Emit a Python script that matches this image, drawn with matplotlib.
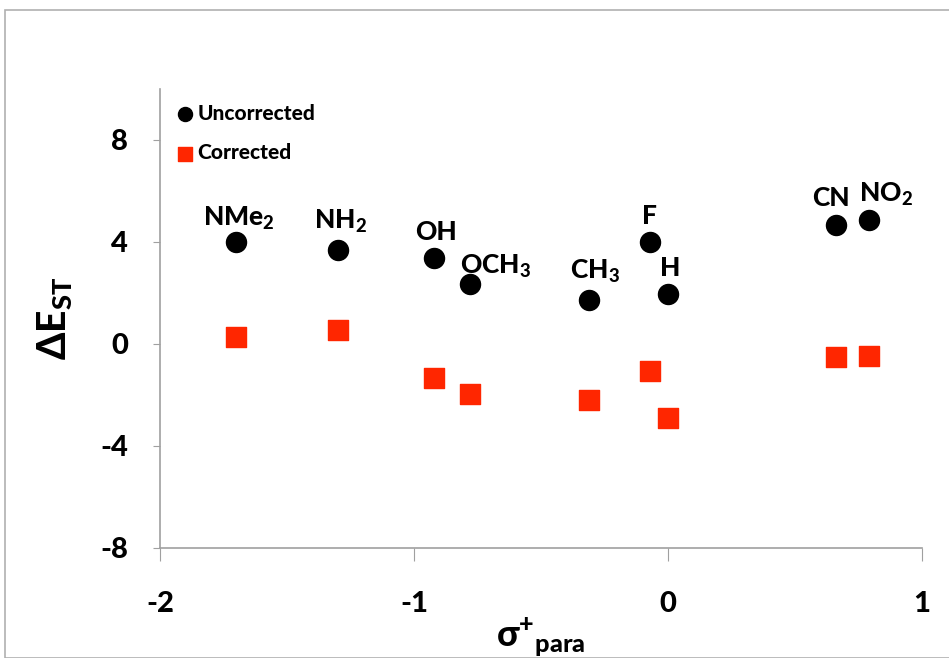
import matplotlib
matplotlib.use("Agg")
import matplotlib.pyplot as plt

substituents = ["NMe$_2$", "NH$_2$", "OH", "OCH$_3$", "CH$_3$", "F", "H", "CN", "NO$_2$"]
sigma_para = [-1.70, -1.30, -0.92, -0.78, -0.31, -0.07, 0.00, 0.66, 0.79]
uncorrected = [4.0, 3.7, 3.37, 2.35, 1.73, 4.0, 1.96, 4.67, 4.86]
corrected = [0.27, 0.55, -1.33, -1.96, -2.2, -1.06, -2.9, -0.51, -0.47]
x_ticks = [-2, -1, 0, 1]
y_ticks = [-8, -4, 0, 4, 8]

offsets = [(3, 24), (3, 28), (2, 26), (26, 18), (6, 28), (-1, 26), (2, 26), (-5, 27), (17, 26)]

W = 'black'
fam = 'Lato'
plt.rcParams['font.family'] = [fam, 'DejaVu Sans']
plt.rcParams['font.weight'] = W
plt.rcParams['mathtext.fontset'] = 'custom'
plt.rcParams['mathtext.rm'] = fam + ':' + W
plt.rcParams['mathtext.it'] = fam + ':' + W
plt.rcParams['mathtext.bf'] = fam + ':' + W
plt.rcParams['mathtext.default'] = 'rm'

fig = plt.figure(figsize=(9.49, 6.58), dpi=100)
ax = fig.add_axes([160/949, 1-548/658, (922-160)/949, (548-89)/658])

fig.patches.append(plt.Rectangle((5/949, 0), 1.2, 1-10/658, transform=fig.transFigure,
                                 fill=False, edgecolor='#b0b0b0', linewidth=1.2))

ax.scatter(sigma_para, uncorrected, s=20**2*0.52, marker='o', color='black', label='Uncorrected', zorder=3)
ax.scatter(sigma_para, corrected, s=20**2*0.52, marker='s', color='#ff2600', label='Corrected', zorder=3)

for name, x, y, (dx, dy) in zip(substituents, sigma_para, uncorrected, offsets):
    ax.annotate(name, (x, y), xytext=(dx, dy), textcoords='offset pixels',
                ha='center', va='center', fontsize=19, fontweight=W)

ax.set_xlim(-2, 1)
ax.set_ylim(-8, 10)
ax.set_xticks(x_ticks)
ax.set_yticks(y_ticks)
ax.set_xticklabels([str(t) for t in x_ticks])
ax.set_yticklabels([str(t) for t in y_ticks])
for lbl in ax.get_xticklabels() + ax.get_yticklabels():
    lbl.set_fontsize(21)
    lbl.set_fontweight(W)

for s in ['top', 'right']:
    ax.spines[s].set_visible(False)
for s in ['left', 'bottom']:
    ax.spines[s].set_color('#a0a0a0')
    ax.spines[s].set_linewidth(1.2)
ax.tick_params(axis='x', direction='out', length=9, color='#a0a0a0', pad=22)
ax.tick_params(axis='y', direction='out', length=5, color='#a0a0a0', pad=18)

ax.set_ylabel('ΔE$_{\\mathrm{ST}}$', fontsize=28, fontweight=W, labelpad=18)
ax.set_xlabel('σ$^{+}$$_{\\mathrm{para}}$', fontsize=26, fontweight=W, labelpad=0)

leg = ax.legend(loc='upper left', bbox_to_anchor=(0.0, 1.0), frameon=False,
                prop={'size': 15, 'weight': W}, handletextpad=0.1,
                handlelength=1.0, markerscale=0.7, labelspacing=1.0, borderaxespad=0.3)

fig.savefig('out.png', dpi=100)
